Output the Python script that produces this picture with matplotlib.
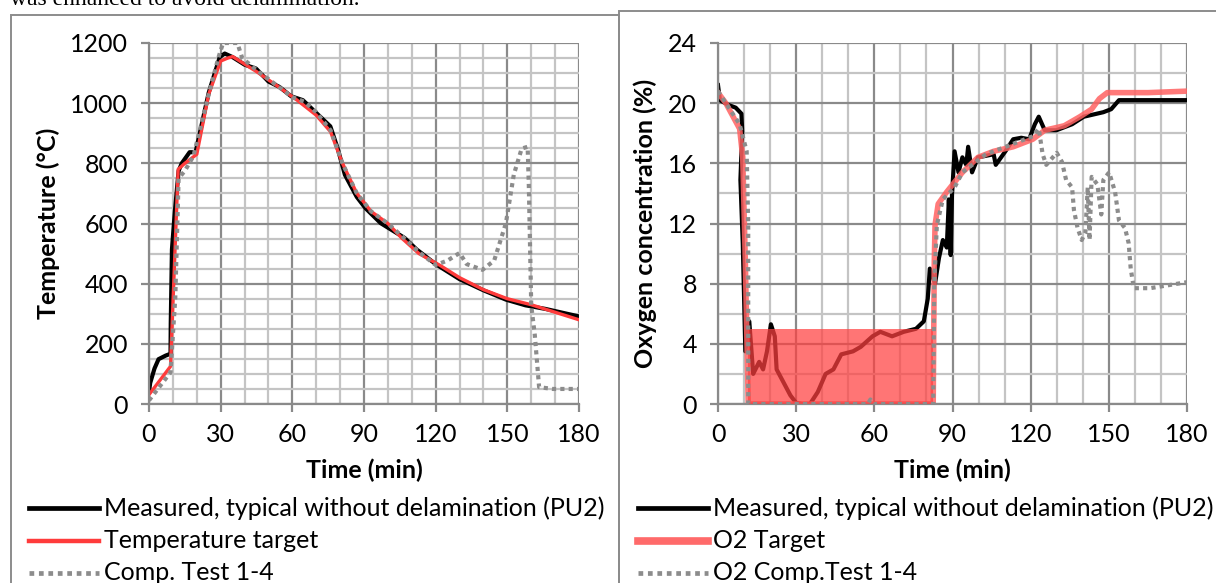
import numpy as np
import matplotlib
matplotlib.use("Agg")
import matplotlib.pyplot as plt
from matplotlib.patches import Rectangle
from matplotlib.ticker import MultipleLocator

plt.rcParams['font.family'] = ['Lato', 'DejaVu Sans']

# ---- left chart: temperature ----
t_meas = [0, 0.5, 2.3, 4, 7, 9, 9.1, 9.6, 10.8, 12.4, 13.7, 17, 19.5, 25, 29.6, 31.7, 35, 40, 44.8,
          50, 54.6, 59.5, 64.4, 69.3, 75.9, 79, 82, 87, 90.6, 97, 107, 112, 120, 130, 140,
          149.4, 157.6, 166, 180]
T_meas = [40, 70, 118, 149, 161, 167, 267, 514, 638, 775, 800, 837, 837, 1035, 1153, 1165, 1153,
          1128, 1115, 1072, 1054, 1023, 1010, 973, 923, 849, 762, 688, 651, 601, 552, 514, 465,
          415, 378, 347, 328, 316, 291]

t_target = [0, 9, 12.2, 15, 20, 25, 30, 33, 35, 40, 45, 55, 62, 70, 76, 81, 87, 93, 100, 106, 113,
            122, 130, 140, 150, 160, 172, 180]
T_target = [31, 125, 780, 800, 830, 1030, 1140, 1150, 1155, 1130, 1105, 1050, 1010, 960, 905, 800,
            700, 640, 600, 550, 500, 460, 420, 380, 350, 330, 300, 280]

t_comp = [0, 9, 11, 12.4, 15, 18.6, 25, 29, 31, 37, 39, 45, 50, 55, 60, 65, 70, 76, 81, 87, 93,
          100, 107, 113, 120, 125, 130, 133, 139.6, 144.5, 149.4, 152.7, 156, 158.5, 159, 160,
          161.5, 163.3, 169, 180]
T_comp = [12, 105, 353, 750, 775, 824, 1030, 1150, 1200, 1200, 1150, 1110, 1080, 1050, 1020, 1005,
          970, 910, 800, 700, 640, 600, 550, 505, 462, 477, 502, 465, 446, 477, 601, 762, 849,
          855, 725, 328, 229, 56, 50, 50]

# ---- right chart: oxygen ----
t_o2 = [0, 0.75, 3.75, 6.8, 9, 9.3, 8.6, 9.5, 10.5, 12, 13.5, 15.8, 17.3, 18.8, 20.3, 21.8, 22.5,
        24.8, 27.8, 30, 32.3, 35.3, 38.3, 41.3, 44.3, 47.3, 51.8, 54.8, 59.3, 62.3, 66.8, 71.3, 76,
        79, 80.5, 81.3, 83.3, 84.8, 86.3, 87.8, 88.6, 89.3, 89.8, 90.8, 92.3, 93.8, 95.3, 96, 97.5,
        99.8, 105.8, 106.6, 110.3, 113.3, 116.4, 119.4, 121.6, 123.1, 125.4, 129.9, 135.9, 140.4,
        147.9, 150.9, 153.9, 180]
o2_meas = [21.2, 20.2, 19.9, 19.7, 19.3, 18.1, 14.9, 10.7, 3.5, 5.5, 2.0, 2.8, 2.3, 3.5, 5.3, 4.5,
           2.3, 1.55, 0.57, 0.07, 0, 0, 0.8, 2.0, 2.3, 3.3, 3.5, 3.8, 4.5, 4.8, 4.5, 4.8, 5.0, 5.5,
           7.0, 9.0, 8.0, 9.7, 10.9, 10.4, 13.6, 9.9, 13.9, 16.8, 15.4, 16.4, 15.9, 17.1, 15.4, 16.4,
           16.6, 15.9, 16.8, 17.6, 17.7, 17.6, 18.6, 19.1, 18.2, 18.2, 18.6, 19.1, 19.4, 19.6, 20.2,
           20.2]

t_o2_target = [0, 3, 8.3, 9.5, 10.5, 11.6, 82.6, 83, 83.3, 84.5, 87.8, 93.8, 99.8, 105.8, 113.3,
               120.8, 125.4, 132.9, 138.9, 143.4, 146.4, 149.4, 165, 180]
o2_target = [20.7, 20.0, 18.3, 16.4, 9.4, 0.0, 0.0, 9.4, 11.9, 13.3, 14.1, 15.4, 16.4, 16.8, 17.1,
             17.6, 18.2, 18.5, 19.1, 19.6, 20.3, 20.7, 20.7, 20.8]
band_t = [11.6, 82.6]
band_hi = 5.0

t_o2_comp = [0, 3.75, 8.3, 11, 11.6, 11.6, 57.5, 58.5, 59.5, 82.6, 83, 84, 86.3, 90.8, 93.8, 102.8,
             113.3, 120.8, 123.1, 124.6, 126, 130, 132, 133.6, 135.9, 136.6, 138, 139.6, 141,
             141.9, 142.6, 143.4, 145.6, 147.1, 147.9, 150.1, 152.4, 153.9, 156.2, 157.6, 158.4,
             159.6, 165.9, 180]
o2_comp = [20.8, 19.8, 18.6, 16.8, 11.9, 0, 0, 0.3, 0, 0, 8.0, 11.9, 13.6, 14.4, 15.4, 16.6, 17.3,
           17.8, 18.3, 16.6, 15.9, 16.7, 16.1, 14.9, 14.4, 12.9, 11.7, 10.9, 11.4, 14.4, 10.9, 15.1,
           14.6, 12.6, 14.9, 15.4, 14.1, 12.2, 11.7, 10.7, 9.0, 7.7, 7.7, 8.1]

x_ticks = [0, 30, 60, 90, 120, 150, 180]

W, H = 1216, 583
fig = plt.figure(figsize=(W / 100, H / 100), dpi=100)

# panel frames
fig.patches.append(Rectangle((11 / W, -0.1), (619 - 11) / W, 1 - 15 / H + 0.1,
                             transform=fig.transFigure, fill=False, ec='#8c8c8c', lw=1.4, zorder=-1))
fig.patches.append(Rectangle((619 / W, -0.1), (W + 5 - 619) / W, 1 - 11 / H + 0.1,
                             transform=fig.transFigure, fill=False, ec='#8c8c8c', lw=1.4, zorder=-1))

# tail of the page text above the figure (cut off in the source too)
fig.text(10 / W, 1 - 5 / H, 'was enhanced to avoid delamination.', family='Liberation Serif',
         fontsize=17, va='baseline', ha='left')

FS = 18


def style_axes(ax, ymax, ymajor, yminor):
    ax.set_xlim(0, 180)
    ax.set_ylim(0, ymax)
    ax.xaxis.set_major_locator(MultipleLocator(30))
    ax.xaxis.set_minor_locator(MultipleLocator(10))
    ax.yaxis.set_major_locator(MultipleLocator(ymajor))
    ax.yaxis.set_minor_locator(MultipleLocator(yminor))
    ax.grid(which='minor', color='#c4c4c4', lw=1.6)
    ax.grid(which='major', color='#8a8a8a', lw=1.6)
    ax.set_axisbelow(True)
    for s in ['top', 'right']:
        ax.spines[s].set_visible(False)
    for s in ['left', 'bottom']:
        ax.spines[s].set_color('#8a8a8a')
        ax.spines[s].set_linewidth(1.6)
    ax.tick_params(which='major', length=6, width=1.6, color='#8a8a8a', labelsize=FS, pad=9)
    ax.tick_params(axis='x', which='major', pad=8)
    ax.tick_params(which='minor', length=0)
    ax.set_xticks(x_ticks)
    ax.set_xlabel('Time (min)', fontsize=FS, fontweight='bold', labelpad=9)


# left
ax1 = fig.add_axes([149 / W, 1 - 404 / H, (579 - 149) / W, (404 - 43) / H])
style_axes(ax1, 1200, 200, 50)
ax1.plot(t_meas, T_meas, color='black', lw=3.0, solid_joinstyle='round')
ax1.plot(t_target, T_target, color='#ff3b3b', lw=2.4)
ax1.plot(t_comp, T_comp, color='#8c8c8c', lw=3.0, ls=(0, (1, 1)))
ax1.set_ylabel('Temperature (°C)', fontsize=FS, fontweight='bold', labelpad=7)

# right
ax2 = fig.add_axes([718 / W, 1 - 404 / H, (1187 - 718) / W, (404 - 43) / H])
style_axes(ax2, 24, 4, 2)
ax2.plot(t_o2, o2_meas, color='black', lw=3.0, solid_joinstyle='round')
ax2.plot(t_o2_target, o2_target, color='#ff6262', lw=4.0, alpha=0.85)
ax2.fill_between(band_t, 0, band_hi, color='#ff4040', alpha=0.72, lw=0, zorder=3)
ax2.plot(t_o2_comp, o2_comp, color='#8c8c8c', lw=3.0, ls=(0, (1, 1)), zorder=4)
ax2.set_ylabel('Oxygen concentration (%)', fontsize=FS, fontweight='bold', labelpad=8)


def add_legend(x0, labels, colors, widths, styles):
    rows = [508, 541, 573]
    for y, lab, c, w, s in zip(rows, labels, colors, widths, styles):
        fig.lines.append(plt.Line2D([(x0) / W, (x0 + 70) / W], [1 - y / H, 1 - y / H],
                                    transform=fig.transFigure, color=c, lw=w, ls=s))
        fig.text((x0 + 75) / W, 1 - y / H, lab, fontsize=18, va='center', ha='left')


add_legend(29, ['Measured, typical without delamination (PU2)', 'Temperature target', 'Comp. Test 1-4'],
           ['black', '#ff3b3b', '#8c8c8c'], [3.4, 3.2, 3.4], ['-', '-', (0, (1, 1))])
add_legend(638, ['Measured, typical without delamination (PU2)', 'O2 Target', 'O2 Comp.Test 1-4'],
           ['black', '#ff6a6a', '#8c8c8c'], [3.4, 5.5, 3.4], ['-', '-', (0, (1, 1))])

fig.savefig('out.png', dpi=100)
